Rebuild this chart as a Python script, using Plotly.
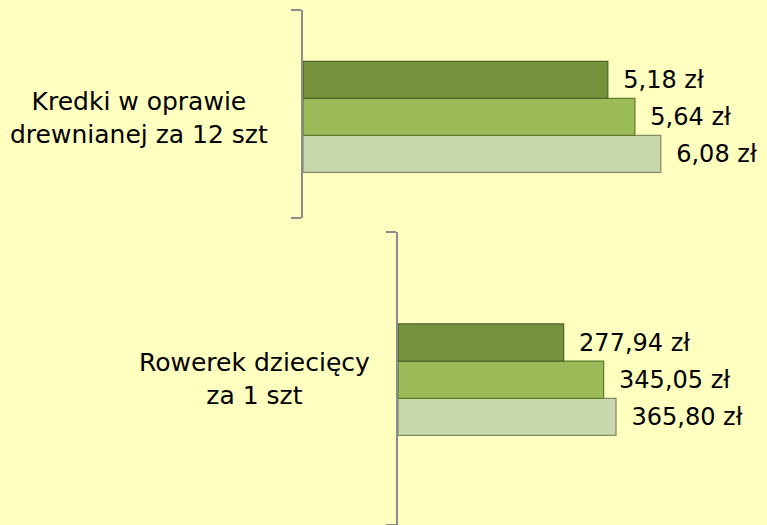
import plotly.graph_objects as go

# Price comparison data (values in zł)
kredki_cat = ["Kredki w oprawie drewnianej za 12 szt"]
rowerek_cat = ["Rowerek dziecięcy za 1 szt"]

# series listed bottom -> top within each group
kredki_vals = [6.08, 5.64, 5.18]
rowerek_vals = [365.80, 345.05, 277.94]

bar_fills = ["#C8D8AC", "#9BBB59", "#76923C"]
bar_edges = ["#7E8C68", "#5E7A2A", "#4F6228"]

FONT = "Comic Sans MS, DejaVu Sans, sans-serif"
BG = "#FFFFC0"
AXIS_GREY = "#8C8C8C"

fig = go.Figure()


def add_group(cat, vals, xa, ya, w, shift):
    n = len(vals)
    for k, v in enumerate(vals):
        fig.add_trace(go.Bar(
            y=cat, x=[v], orientation="h",
            xaxis=xa, yaxis=ya,
            width=w, offset=-n * w / 2 + k * w + shift,
            marker=dict(color=bar_fills[k], line=dict(color=bar_edges[k], width=1.2)),
            texttemplate="\u00a0\u2009%{x:.2f} zł",
            textposition="outside",
            textfont=dict(family=FONT, size=24, color="#000000"),
            constraintext="none",
            cliponaxis=False,
            showlegend=False,
            hoverinfo="skip",
        ))


add_group(kredki_cat, kredki_vals, "x", "y", 0.178, -0.014)
add_group(rowerek_cat, rowerek_vals, "x2", "y2", 0.127, -0.004)

yaxis_style = dict(
    type="category", range=[-0.5005, 0.5005],
    showline=True, linecolor=AXIS_GREY, linewidth=2,
    ticks="outside", ticklen=10, tickwidth=1.5, tickcolor=AXIS_GREY,
    tickson="boundaries", showticklabels=False, showgrid=False,
    zeroline=False, fixedrange=True,
)
xaxis_style = dict(visible=False, showgrid=False, zeroline=False, fixedrange=True)

fig.update_layout(
    width=767, height=525,
    margin=dict(l=0, r=0, t=0, b=0),
    paper_bgcolor=BG, plot_bgcolor=BG,
    barmode="overlay",
    separators=", ",
    font=dict(family=FONT, color="#000000"),
    xaxis=dict(xaxis_style, domain=[0.39505, 0.93211], range=[0, 7], anchor="y"),
    yaxis=dict(yaxis_style, domain=[0.5848, 0.981], anchor="x"),
    xaxis2=dict(xaxis_style, domain=[0.5189, 0.98514], range=[0, 600], anchor="y2"),
    yaxis2=dict(yaxis_style, domain=[0.0, 0.558], anchor="x2"),
    annotations=[
        dict(text="Kredki w oprawie<br>drewnianej za 12 szt",
             xref="paper", x=0.1812, yref="y", y=kredki_cat[0], yshift=-4,
             xanchor="center", yanchor="middle", align="center", showarrow=False,
             font=dict(family=FONT, size=25, color="#000000")),
        dict(text="Rowerek dziecięcy<br>za 1 szt",
             xref="paper", x=0.3318, yref="y2", y=rowerek_cat[0],
             xanchor="center", yanchor="middle", align="center", showarrow=False,
             font=dict(family=FONT, size=25, color="#000000")),
    ],
)

fig.write_html("out.html")
